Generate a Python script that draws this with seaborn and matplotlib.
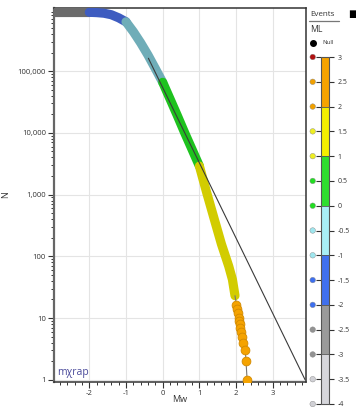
import matplotlib
matplotlib.use("Agg")
import numpy as np
import pandas as pd
import seaborn as sns
import matplotlib.pyplot as plt
from matplotlib.ticker import FixedLocator, FuncFormatter, LogLocator, MultipleLocator, NullFormatter
from matplotlib.colors import ListedColormap, BoundaryNorm
from matplotlib.lines import Line2D
import matplotlib.colorbar as mcb
import matplotlib.transforms as mtransforms

# ---------------- data ----------------
band_mw = [-2.95, -2.8, -2.6, -2.4, -2.2, -2.0, -1.8, -1.6, -1.4, -1.2, -1.0,
           -0.8, -0.6, -0.4, -0.2, 0.0, 0.2, 0.4, 0.6, 0.8, 1.0,
           1.2, 1.4, 1.6, 1.8, 1.9, 1.97]
band_n = [900000, 900000, 900000, 900000, 900000, 900000, 890000, 870000, 822000, 733000, 631000,
          437000, 288000, 182000, 110000, 66000, 35500, 19000, 10000, 5400, 2900,
          1070, 410, 158, 69, 42, 23]

orange_mw = [2.01, 2.03, 2.05, 2.07, 2.09, 2.11, 2.12, 2.14, 2.16, 2.18, 2.25, 2.27, 2.30]
orange_n = [16, 14, 12, 10, 9, 8, 7, 6, 5, 4, 3, 2, 1]

gr_mw = [-0.39, 3.88]
gr_n = [162000, 1]

band_bins = [-2.0, -1.0, 0.0, 1.0]
band_colors = ["#6b6b6b", "#3e5cc0", "#6fadb8", "#1ec21e", "#d2cc00"]

y_ticks = [1, 10, 100, 1000, 10000, 100000]
x_ticks = [-2, -1, 0, 1, 2, 3]

cbar_bounds = [-4, -3, -2, -1, 0, 1, 2, 3]
cbar_colors = ["#d6d6db", "#9a9a9a", "#4070ee", "#a8eef6", "#2ede2e", "#f4ee00", "#f5a300"]
cbar_ticks = [-4, -3.5, -3, -2.5, -2, -1.5, -1, -0.5, 0, 0.5, 1, 1.5, 2, 2.5, 3]
dot_colors = ["#d0d0d5", "#d0d0d5", "#929292", "#929292", "#3d6fee", "#3d6fee",
              "#9fe6ee", "#9fe6ee", "#22dd22", "#22dd22", "#eeee22", "#eeee22",
              "#f0a000", "#f0a000", "#b01010"]

# ---------------- figure ----------------
sns.set_style("white")
plt.rcParams["font.family"] = ["Open Sans", "DejaVu Sans"]

W, H = 356, 409
fig = plt.figure(figsize=(W / 100, H / 100), dpi=100)
ax = fig.add_axes([54.3 / W, 1 - 382 / H, (306 - 54.3) / W, (382 - 8) / H])
ax.set_yscale("log")

mw = np.array(band_mw)
nn = np.array(band_n)
seg = np.digitize(mw, band_bins)
for s, col in enumerate(band_colors):
    idx = np.where(seg == s)[0]
    if len(idx) == 0:
        continue
    if idx[-1] + 1 < len(mw):
        idx = np.append(idx, idx[-1] + 1)
    df = pd.DataFrame({"Mw": mw[idx], "N": nn[idx]})
    sns.lineplot(data=df, x="Mw", y="N", ax=ax, color=col, linewidth=6.6,
                 solid_capstyle="round", solid_joinstyle="round", sort=False,
                 estimator=None, zorder=3 + s * 0.01)

# thin connector through the sparse tail
tail = pd.DataFrame({"Mw": [band_mw[-1]] + orange_mw, "N": [band_n[-1]] + orange_n})
sns.lineplot(data=tail, x="Mw", y="N", ax=ax, color="#777777", linewidth=0.8,
             sort=False, estimator=None, zorder=3.5)
sns.scatterplot(x=orange_mw, y=orange_n, ax=ax, color="#f5a300", edgecolor="#d38a00",
                s=40, linewidth=0.6, zorder=4)

# Gutenberg-Richter fit line
sns.lineplot(x=gr_mw, y=gr_n, ax=ax, color="#3a3a3a", linewidth=0.8, zorder=5)

ax.set_xlim(-2.954, 3.905)
ax.set_ylim(0.918, 1.057e6)

ax.xaxis.set_major_locator(FixedLocator(x_ticks))
ax.xaxis.set_minor_locator(MultipleLocator(0.2))
ax.yaxis.set_major_locator(FixedLocator(y_ticks))
ax.yaxis.set_minor_locator(LogLocator(base=10, subs=np.arange(2, 10)))
ax.yaxis.set_major_formatter(FuncFormatter(lambda v, p: f"{int(round(v)):,}"))
ax.yaxis.set_minor_formatter(NullFormatter())
ax.xaxis.set_major_formatter(FuncFormatter(lambda v, p: f"{int(v)}"))

ax.grid(True, which="major", color="#e4e4e4", linewidth=0.8, zorder=0)
ax.set_axisbelow(True)
ax.tick_params(axis="both", which="major", direction="out", length=4, width=0.8,
               labelsize=5.5, colors="#333333", pad=2)
ax.tick_params(axis="both", which="minor", direction="out", length=2.3, width=0.7,
               colors="#333333")
ax.tick_params(axis="x", which="both", bottom=True)
ax.tick_params(axis="y", which="both", left=True)
for sp in ax.spines.values():
    sp.set_color("#333333")
    sp.set_linewidth(1.1)
ax.spines["left"].set_color("#666666")
ax.spines["left"].set_linewidth(1.6)

ax.set_xlabel("Mw", fontsize=6.5, color="#333333")
ax.set_ylabel("N", fontsize=6.5, color="#333333")
ax.xaxis.set_label_coords(0.5, -0.036)
ax.yaxis.set_label_coords(-0.176, 0.5)

ax.text(0.012, 0.012, "m\u03c7rap", transform=ax.transAxes, color="#4b4b9b",
        fontsize=7.5, ha="left", va="bottom", zorder=6)

# ---------------- ML colour legend ----------------
cax = fig.add_axes([320.7 / W, 1 - 404 / H, 8.6 / W, (404 - 57) / H])
cb = mcb.ColorbarBase(cax, cmap=ListedColormap(cbar_colors),
                      norm=BoundaryNorm(cbar_bounds, len(cbar_colors)),
                      orientation="vertical", ticks=cbar_ticks, drawedges=True)
cb.outline.set_edgecolor("#555555")
cb.outline.set_linewidth(0.8)
cb.dividers.set_color("#555555")
cb.dividers.set_linewidth(0.6)
cax.yaxis.set_major_formatter(FuncFormatter(lambda v, p: f"{v:g}"))
cax.tick_params(axis="y", which="major", left=True, right=True, direction="out",
                length=3.5, width=0.8, labelsize=5, colors="#333333", pad=2.5)
cax.tick_params(axis="y", which="minor", left=False, right=False)
trans = mtransforms.blended_transform_factory(cax.transAxes, cax.transData)
cax.scatter([-0.93] * len(cbar_ticks), cbar_ticks, c=dot_colors, s=16,
            edgecolors="#888888", linewidths=0.3, transform=trans, clip_on=False, zorder=5)

fig.text(310 / W, 1 - 15 / H, "Events", fontsize=5.8, color="#333333", va="center", ha="left")
fig.add_artist(Line2D([309 / W, 339 / W], [1 - 21 / H, 1 - 21 / H], color="#777777", lw=0.9))
fig.text(348 / W, 1 - 15 / H, "\u25a0", fontsize=7, color="black", va="center", ha="left")
fig.text(310 / W, 1 - 29 / H, "ML", fontsize=6.2, color="#333333", va="center", ha="left")
dot_ax = fig.add_axes([0, 0, 1, 1], facecolor="none")
dot_ax.set_xlim(0, W)
dot_ax.set_ylim(H, 0)
dot_ax.axis("off")
dot_ax.scatter([312.7], [43], color="black", s=16, zorder=5)
fig.text(322 / W, 1 - 43 / H, "Null", fontsize=4.3, color="#333333", va="center", ha="left")

fig.savefig("out.png", dpi=100)
